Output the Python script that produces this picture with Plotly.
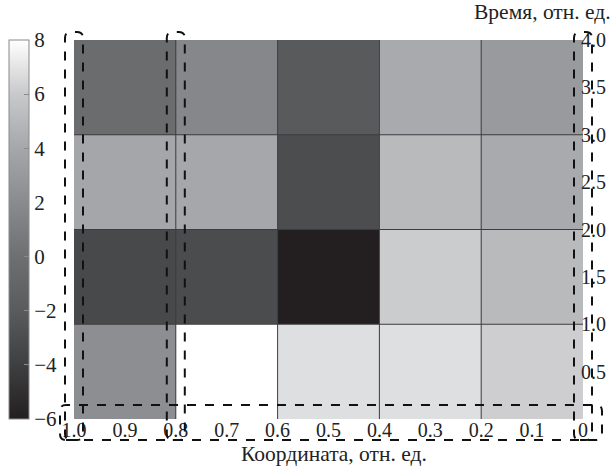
import plotly.graph_objects as go

# ---- data ----
x_centers = [0.9, 0.7, 0.5, 0.3, 0.1]          # координата (cell centres)
y_centers = [0.5, 1.5, 2.5, 3.5]               # время (cell centres)
z_values = [
    [2.2, 8.0, 6.8, 6.8, 6.2],    # 0-1
    [-3.3, -3.1, -6.0, 6.1, 5.1], # 1-2
    [3.9, 4.0, -3.0, 5.1, 4.2],   # 2-3
    [-0.3, 1.7, -2.1, 4.2, 3.1],  # 3-4
]
x_edges_inner = [0.8, 0.6, 0.4, 0.2]
y_edges_inner = [1.0, 2.0, 3.0]
x_tickvals = [1.0, 0.9, 0.8, 0.7, 0.6, 0.5, 0.4, 0.3, 0.2, 0.1, 0.0]
x_ticktext = ["1.0", "0.9", "0.8", "0.7", "0.6", "0.5", "0.4", "0.3", "0.2", "0.1", "0"]
y_tickvals = [0.5, 1.0, 1.5, 2.0, 2.5, 3.0, 3.5, 4.0]
y_ticktext = ["0.5", "1.0", "1.5", "2.0", "2.5", "3.0", "3.5", "4.0"]
cb_tickvals = [-6, -4, -2, 0, 2, 4, 6, 8]
highlight_cols = [1.0, 0.8, 0.0]

W, H = 615, 467
ML, MR, MT, MB = 74, 32, 40, 48
PW, PH = W - ML - MR, H - MT - MB

def px_x(p):
    return (p - ML) / PW

def px_y(p):
    return (H - MB - p) / PH

colorscale = [
    [0.0, "rgb(35,31,32)"],
    [2/14, "rgb(62,63,65)"],
    [4/14, "rgb(90,91,93)"],
    [6/14, "rgb(110,111,113)"],
    [8/14, "rgb(138,139,142)"],
    [10/14, "rgb(166,167,170)"],
    [12/14, "rgb(200,201,203)"],
    [1.0, "rgb(255,255,255)"],
]

FONT = "Liberation Serif, Times New Roman, serif"

fig = go.Figure()
fig.add_trace(go.Heatmap(
    x=x_centers, y=y_centers, z=z_values,
    zmin=-6, zmax=8, colorscale=colorscale,
    colorbar=dict(
        x=px_x(9), xanchor="left", y=0.5, yanchor="middle",
        len=1.0, lenmode="fraction", thickness=20,
        outlinecolor="#8a8a8a", outlinewidth=1,
        tickvals=cb_tickvals, ticks="inside", ticklen=5, tickcolor="#8a8a8a",
        tickfont=dict(family=FONT, size=21, color="#222"),
        xpad=0, ypad=0,
    ),
    hoverinfo="skip",
))

shapes = []
# cell borders
for xv in x_edges_inner:
    shapes.append(dict(type="line", xref="x", yref="paper", x0=xv, x1=xv, y0=0, y1=1,
                       line=dict(color="#3c3c3c", width=1), layer="above"))
for yv in y_edges_inner:
    shapes.append(dict(type="line", xref="paper", yref="y", x0=0, x1=1, y0=yv, y1=yv,
                       line=dict(color="#3c3c3c", width=1), layer="above"))

def rrect(x0, x1, y0, y1, rx, ry):
    return (f"M {x0+rx},{y0} L {x1-rx},{y0} Q {x1},{y0} {x1},{y0+ry} "
            f"L {x1},{y1-ry} Q {x1},{y1} {x1-rx},{y1} L {x0+rx},{y1} "
            f"Q {x0},{y1} {x0},{y1-ry} L {x0},{y0+ry} Q {x0},{y0} {x0+rx},{y0} Z")

dash_line = dict(color="#111", width=2, dash="dash")
rx = 6 / PW
ry = 6 / PH
half = 9 / PW
for c in highlight_cols:
    cx = px_x(ML + (1.0 - c) * PW)
    shapes.append(dict(type="path", xref="paper", yref="paper",
                       path=rrect(cx - half, cx + half, px_y(440), px_y(32), rx, ry),
                       line=dash_line, layer="above"))
shapes.append(dict(type="path", xref="paper", yref="paper",
                   path=rrect(px_x(60), px_x(602), px_y(440), px_y(405), rx, ry),
                   line=dash_line, layer="above"))

fig.update_layout(
    width=W, height=H,
    margin=dict(l=ML, r=MR, t=MT, b=MB, autoexpand=False),
    paper_bgcolor="white", plot_bgcolor="white",
    font=dict(family=FONT, size=20, color="#222"),
    xaxis=dict(range=[1.0, 0.0], tickvals=x_tickvals, ticktext=x_ticktext,
               showgrid=False, zeroline=False, showline=False, ticks="",
               automargin=False, tickfont=dict(size=20), ticklabelstandoff=-3),
    yaxis=dict(range=[0, 4.0], side="right", tickvals=y_tickvals, ticktext=y_ticktext,
               showgrid=False, zeroline=False, showline=False, ticks="",
               automargin=False, tickfont=dict(size=20), ticklabelstandoff=-3),
    shapes=shapes,
    annotations=[
        dict(text="Время, отн. ед.", xref="paper", yref="paper",
             x=px_x(613), y=px_y(12), xanchor="right", yanchor="middle",
             showarrow=False, font=dict(size=21.5)),
        dict(text="Координата, отн. ед.", xref="paper", yref="paper",
             x=px_x(334), y=px_y(454), xanchor="center", yanchor="middle",
             showarrow=False, font=dict(size=21.5)),
    ],
)

fig.write_html("out.html", config={"displayModeBar": False},
               post_script="document.body.style.margin='0';document.body.style.overflow='hidden';")
